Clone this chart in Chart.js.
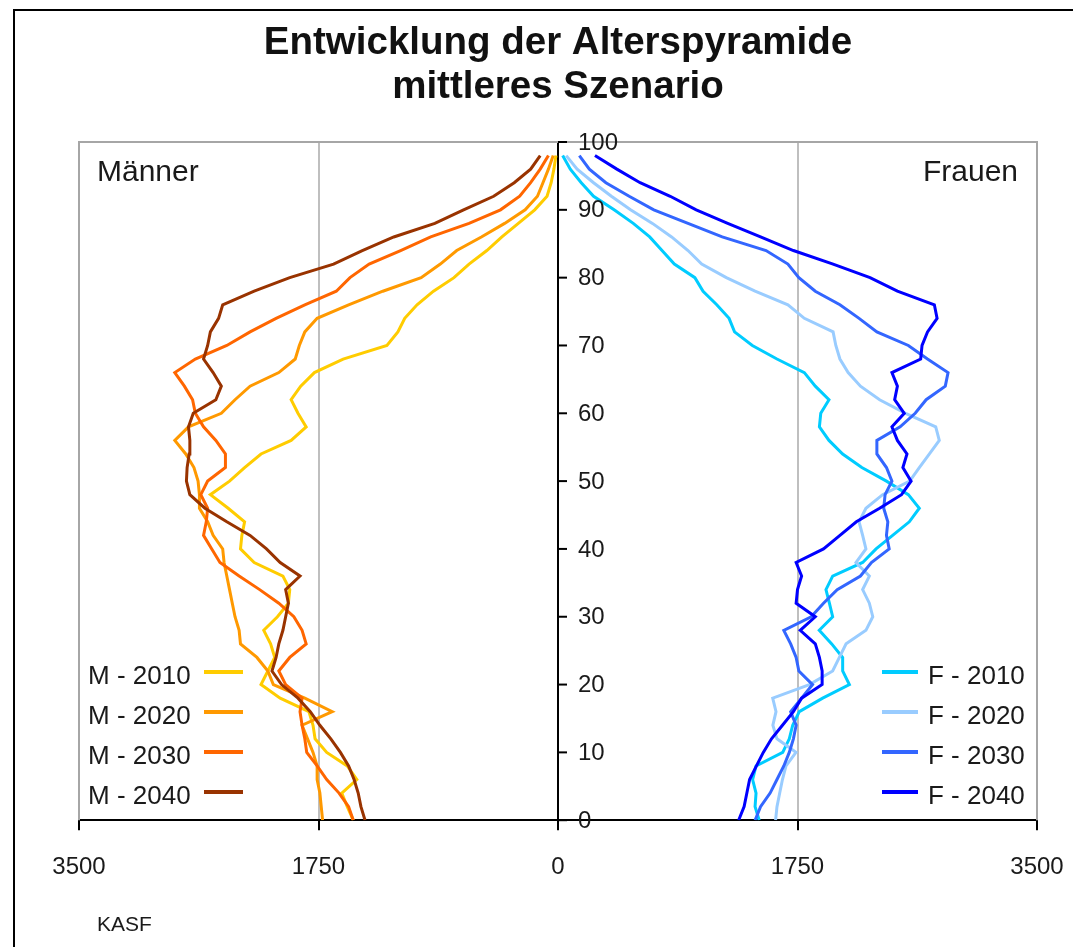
<!DOCTYPE html>
<html>
<head>
<meta charset="utf-8">
<script src="https://cdn.jsdelivr.net/npm/chart.js@4.4.0/dist/chart.umd.min.js"></script>
<style>
  html, body { margin: 0; padding: 0; background: #fff; }
  #wrap { position: relative; width: 1073px; height: 947px; overflow: hidden; }
  #frame { position: absolute; left: 13px; top: 9px; width: 1200px; height: 1200px;
           border-left: 2px solid #000; border-top: 2px solid #000; }
  #chart { position: absolute; left: 0; top: 0; }
</style>
</head>
<body>
<div id="wrap">
  <div id="frame"></div>
  <canvas id="chart" width="1073" height="947"></canvas>
</div>
<script>
// === Data (persons per age year) ===
const ages = [0, 2, 4, 6, 8, 10, 12, 14, 16, 18, 20, 22, 24, 26, 28, 30, 32, 34, 36, 38,
              40, 42, 44, 46, 48, 50, 52, 54, 56, 58, 60, 62, 64, 66, 68, 70, 72, 74, 76, 78,
              80, 82, 84, 86, 88, 90, 92, 94, 96, 98];

const m2010 = [1496, 1540, 1580, 1470, 1540, 1690, 1775, 1790, 1820, 2030, 2170, 2120, 2070, 2100, 2150, 2050, 1970, 1960, 2010, 2220,
               2320, 2310, 2290, 2410, 2540, 2400, 2290, 2170, 1950, 1840, 1900, 1950, 1880, 1780, 1570, 1250, 1170, 1120, 1030, 910,
               760, 650, 520, 410, 290, 170, 80, 50, 30, 15];
const m2020 = [1720, 1730, 1740, 1760, 1760, 1790, 1830, 1870, 1650, 1850, 2080, 2120, 2200, 2320, 2330, 2360, 2380, 2400, 2420, 2440,
               2450, 2520, 2560, 2620, 2620, 2630, 2660, 2720, 2800, 2700, 2460, 2360, 2250, 2040, 1920, 1890, 1850, 1760, 1530, 1280,
               1000, 860, 740, 560, 390, 240, 150, 110, 70, 35];
const m2030 = [1496, 1530, 1600, 1690, 1760, 1836, 1850, 1870, 1885, 1870, 1990, 2040, 1960, 1840, 1870, 1930, 2040, 2180, 2330, 2470,
               2530, 2590, 2570, 2560, 2610, 2560, 2430, 2430, 2500, 2590, 2650, 2670, 2730, 2800, 2650, 2420, 2250, 2060, 1850, 1620,
               1520, 1380, 1150, 930, 650, 420, 280, 200, 130, 70];
const m2040 = [1410, 1440, 1460, 1490, 1530, 1590, 1660, 1740, 1810, 1900, 2020, 2090, 2060, 2040, 2010, 1990, 1970, 1990, 1885, 2030,
               2130, 2250, 2420, 2580, 2690, 2715, 2710, 2695, 2690, 2700, 2665, 2500, 2460, 2520, 2590, 2560, 2540, 2480, 2450, 2220,
               1960, 1640, 1430, 1200, 900, 690, 470, 320, 200, 130];

const f2010 = [1470, 1440, 1447, 1422, 1447, 1642, 1690, 1715, 1763, 1934, 2129, 2080, 2080, 2000, 1909, 2007, 1983, 1958, 2007, 2226,
               2324, 2445, 2567, 2640, 2560, 2400, 2220, 2080, 1980, 1910, 1920, 1980, 1880, 1800, 1600, 1420, 1290, 1250, 1160, 1060,
               1000, 850, 760, 670, 550, 410, 260, 170, 90, 34];
const f2020 = [1590, 1600, 1620, 1640, 1666, 1739, 1600, 1570, 1593, 1569, 1837, 2007, 2056, 2105, 2250, 2300, 2275, 2226, 2275, 2177,
               2250, 2226, 2200, 2250, 2372, 2570, 2640, 2714, 2786, 2760, 2540, 2350, 2210, 2120, 2060, 2030, 2010, 1800, 1680, 1440,
               1230, 1050, 950, 830, 690, 530, 390, 260, 140, 60];
const f2030 = [1440, 1480, 1550, 1600, 1650, 1690, 1720, 1740, 1700, 1780, 1860, 1760, 1740, 1700, 1650, 1850, 1940, 2040, 2210, 2290,
               2420, 2400, 2410, 2380, 2390, 2440, 2400, 2330, 2330, 2500, 2610, 2690, 2830, 2850, 2700, 2560, 2330, 2200, 2060, 1880,
               1760, 1680, 1520, 1200, 950, 700, 520, 350, 229, 156];
const f2040 = [1320, 1360, 1380, 1400, 1450, 1500, 1560, 1640, 1720, 1780, 1930, 1930, 1910, 1880, 1770, 1880, 1740, 1750, 1780, 1740,
               1940, 2060, 2180, 2350, 2510, 2580, 2520, 2550, 2480, 2440, 2530, 2460, 2480, 2440, 2650, 2660, 2700, 2770, 2750, 2480,
               2280, 2010, 1720, 1480, 1240, 1010, 820, 600, 430, 270];

const xTicks = [-3500, -1750, 0, 1750, 3500];
const titleLines = ["Entwicklung der Alterspyramide", "mittleres Szenario"];

const FONT = "'Liberation Sans', Arial, sans-serif";

function series(values, sign) {
  return ages.map((a, i) => ({ x: sign * values[i], y: a }));
}

function ds(label, values, sign, color, order) {
  return {
    label, data: series(values, sign), borderColor: color, backgroundColor: color,
    borderWidth: 3, pointRadius: 0, showLine: true, tension: 0, order,
    side: sign < 0 ? "left" : "right"
  };
}

const datasets = [
  ds("M - 2010", m2010, -1, "#FFCC00", 3),
  ds("M - 2020", m2020, -1, "#FF9900", 2),
  ds("M - 2030", m2030, -1, "#FF6600", 1),
  ds("M - 2040", m2040, -1, "#993300", 0),
  ds("F - 2010", f2010, 1, "#00CCFF", 3),
  ds("F - 2020", f2020, 1, "#99CCFF", 2),
  ds("F - 2030", f2030, 1, "#3366FF", 1),
  ds("F - 2040", f2040, 1, "#0000FF", 0),
];

// === Decorations: plot border, centre axis labels, side labels, legends ===
const pyramidPlugin = {
  id: "pyramid",
  beforeDatasetsDraw(chart) {
    const { ctx, chartArea: a } = chart;
    ctx.save();
    ctx.strokeStyle = "#A6A6A6";
    ctx.lineWidth = 2;
    ctx.beginPath();
    ctx.moveTo(a.left, a.bottom);
    ctx.lineTo(a.left, a.top);
    ctx.lineTo(a.right, a.top);
    ctx.lineTo(a.right, a.bottom);
    ctx.stroke();
    ctx.restore();
  },
  afterDraw(chart) {
    const { ctx, chartArea: a, scales } = chart;
    const x0 = scales.x.getPixelForValue(0);
    ctx.save();

    // y axis tick marks (pointing right) and labels
    ctx.strokeStyle = "#000";
    ctx.lineWidth = 2;
    ctx.fillStyle = "#1a1a1a";
    ctx.font = "24px " + FONT;
    ctx.textAlign = "left";
    ctx.textBaseline = "middle";
    scales.y.ticks.forEach(t => {
      const py = scales.y.getPixelForValue(t.value);
      ctx.beginPath();
      ctx.moveTo(x0, py);
      ctx.lineTo(x0 + 9, py);
      ctx.stroke();
      ctx.fillText(String(t.value), x0 + 20, py + 1);
    });

    // side labels
    ctx.font = "30px " + FONT;
    ctx.fillStyle = "#1a1a1a";
    ctx.textAlign = "left";
    ctx.fillText("Männer", a.left + 18, a.top + 31);
    ctx.textAlign = "right";
    ctx.fillText("Frauen", a.right - 19, a.top + 31);

    // legends
    ctx.font = "26px " + FONT;
    chart.data.datasets.forEach((d, i) => {
      const row = i % 4;
      const y = a.top + 535 + row * 40;
      ctx.strokeStyle = d.borderColor;
      ctx.lineWidth = 4;
      ctx.beginPath();
      if (d.side === "left") {
        ctx.moveTo(a.left + 125, y - 5);
        ctx.lineTo(a.left + 164, y - 5);
        ctx.stroke();
        ctx.textAlign = "left";
        ctx.fillText(d.label, a.left + 9, y);
      } else {
        ctx.moveTo(a.right - 155, y - 5);
        ctx.lineTo(a.right - 119, y - 5);
        ctx.stroke();
        ctx.textAlign = "left";
        ctx.fillText(d.label, a.right - 109, y);
      }
    });

    // source
    ctx.font = "21px " + FONT;
    ctx.textAlign = "left";
    ctx.fillText("KASF", 97, 925);
    ctx.restore();
  }
};

new Chart(document.getElementById("chart"), {
  type: "scatter",
  data: { datasets },
  options: {
    responsive: false,
    animation: false,
    layout: { padding: { left: 79, right: 36, top: 0, bottom: 42 } },
    plugins: {
      legend: { display: false },
      tooltip: { enabled: false },
      title: {
        display: true,
        text: titleLines,
        color: "#111",
        font: { family: FONT, size: 38.5, weight: "bold", lineHeight: 1.13 },
        padding: { top: 22, bottom: 33 }
      }
    },
    scales: {
      x: {
        type: "linear",
        position: "bottom",
        min: xTicks[0],
        max: xTicks[xTicks.length - 1],
        afterBuildTicks: s => { s.ticks = xTicks.map(v => ({ value: v })); },
        afterFit: s => { s.paddingLeft = 0; s.paddingRight = 0; },
        ticks: {
          color: "#1a1a1a",
          font: { family: FONT, size: 24 },
          padding: 23,
          maxRotation: 0,
          callback: v => String(Math.abs(v))
        },
        grid: {
          color: c => (c.tick && c.tick.value === 0) ? "rgba(0,0,0,0)" : "#BFBFBF",
          tickColor: "#000",
          tickLength: 10,
          lineWidth: 2
        },
        border: { color: "#000", width: 2 }
      },
      y: {
        type: "linear",
        position: { x: 0 },
        min: 0,
        max: 100,
        ticks: { display: false, stepSize: 10 },
        grid: { drawOnChartArea: false, drawTicks: false },
        border: { color: "#000", width: 2 }
      }
    }
  },
  plugins: [pyramidPlugin]
});
</script>
</body>
</html>
